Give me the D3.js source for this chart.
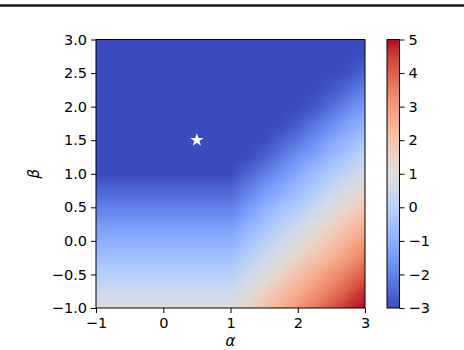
<!DOCTYPE html>
<html>
<head>
<meta charset="utf-8">
<script src="https://cdn.jsdelivr.net/npm/d3@7"></script>
<style>
body { margin: 0; background: #fff; }
svg { display: block; font-family: "DejaVu Sans", sans-serif; }
</style>
</head>
<body>
<div id="chart"></div>
<script>
// grid: one row per beta (from -1 up to 3), columns follow alphaValues
const alphaValues = [-1, -0.75, -0.5, -0.25, 0, 0.25, 0.5, 0.75, 1, 1.25, 1.5, 1.75, 2, 2.25, 2.5, 2.75, 3];
const betaValues = [-1, -0.75, -0.5, -0.25, 0, 0.25, 0.5, 0.75, 1, 1.25, 1.5, 1.75, 2, 2.25, 2.5, 2.75, 3];
const zRows = [
  [1, 1, 1, 1, 1, 1, 1, 1, 1, 1.5, 2.1, 2.6, 3.1, 3.6, 4.2, 4.7, 5],
  [0.5, 0.5, 0.5, 0.5, 0.5, 0.5, 0.5, 0.5, 0.5, 1.0, 1.5, 2.1, 2.6, 3.1, 3.6, 4.1, 4.7],
  [0, 0, 0, 0, 0, 0, 0, 0, 0, 0.5, 1.0, 1.5, 2.1, 2.6, 3.1, 3.6, 4.1],
  [-0.5, -0.5, -0.5, -0.5, -0.5, -0.5, -0.5, -0.5, -0.5, 0.0, 0.5, 1.0, 1.5, 2.0, 2.5, 3.0, 3.6],
  [-1, -1, -1, -1, -1, -1, -1, -1, -1, -0.5, 0, 0.5, 1, 1.5, 2, 2.5, 3],
  [-1.5, -1.5, -1.5, -1.5, -1.5, -1.5, -1.5, -1.5, -1.5, -1.0, -0.5, 0.0, 0.5, 1.0, 1.5, 2.0, 2.5],
  [-2, -2, -2, -2, -2, -2, -2, -2, -2, -1.5, -1.0, -0.5, -0.1, 0.4, 0.9, 1.4, 1.9],
  [-2.5, -2.5, -2.5, -2.5, -2.5, -2.5, -2.5, -2.5, -2.5, -2.0, -1.5, -1.1, -0.6, -0.1, 0.4, 0.9, 1.4],
  [-3, -3, -3, -3, -3, -3, -3, -3, -3, -2.5, -2.0, -1.6, -1.1, -0.6, -0.1, 0.3, 0.8],
  [-3, -3, -3, -3, -3, -3, -3, -3, -3, -3, -2.6, -2.1, -1.6, -1.2, -0.7, -0.2, 0.3],
  [-3, -3, -3, -3, -3, -3, -3, -3, -3, -3, -3, -2.6, -2.2, -1.7, -1.2, -0.8, -0.3],
  [-3, -3, -3, -3, -3, -3, -3, -3, -3, -3, -3, -3, -2.7, -2.2, -1.8, -1.3, -0.9],
  [-3, -3, -3, -3, -3, -3, -3, -3, -3, -3, -3, -3, -3, -2.8, -2.3, -1.9, -1.4],
  [-3, -3, -3, -3, -3, -3, -3, -3, -3, -3, -3, -3, -3, -3, -2.8, -2.4, -2.0],
  [-3, -3, -3, -3, -3, -3, -3, -3, -3, -3, -3, -3, -3, -3, -3, -2.9, -2.5],
  [-3, -3, -3, -3, -3, -3, -3, -3, -3, -3, -3, -3, -3, -3, -3, -3, -2.9],
  [-3, -3, -3, -3, -3, -3, -3, -3, -3, -3, -3, -3, -3, -3, -3, -3, -3]
];
const starPoint = [0.5, 1.5];
const xTicks = [-1, 0, 1, 2, 3];
const yTicks = [-1, -0.5, 0, 0.5, 1, 1.5, 2, 2.5, 3];
const cbarTicks = [-3, -2, -1, 0, 1, 2, 3, 4, 5];
const zDomain = [-3, 5];

// coolwarm colormap
const coolwarm = ["#3b4cc0","#445acc","#4d68d7","#5775e1","#6282ea","#6c8ef1","#779af7","#82a5fb",
  "#8db0fe","#98b9ff","#a3c2ff","#aec9fd","#b8d0f9","#c2d5f4","#ccd9ee","#d5dbe6","#dddddd",
  "#e5d8d1","#ecd3c5","#f1ccb9","#f5c4ad","#f7bba0","#f7b194","#f7a687","#f49a7b","#f18d6f",
  "#ec7f63","#e57058","#de604d","#d55042","#cb3e38","#c0282f","#b40426"];

const width = 464;
const height = 350;
const plotLeft = 96, plotRight = 365, plotTop = 39.5, plotBottom = 308;

const x = d3.scaleLinear().domain([-1, 3]).range([plotLeft, plotRight]);
const y = d3.scaleLinear().domain([-1, 3]).range([plotBottom, plotTop]);
const color = d3.scaleLinear()
  .domain(coolwarm.map((c, i) => zDomain[0] + (zDomain[1] - zDomain[0]) * i / (coolwarm.length - 1)))
  .range(coolwarm)
  .clamp(true);

const svg = d3.select('#chart').append('svg')
  .attr('width', width)
  .attr('height', height);

// rule and cut title at the top
svg.append('line')
  .attr('x1', 0).attr('x2', width)
  .attr('y1', 5.5).attr('y2', 5.5)
  .attr('stroke', '#151515')
  .attr('stroke-width', 2.6);
svg.append('text')
  .attr('x', 282).attr('y', -3)
  .attr('text-anchor', 'middle')
  .style('font-family', '"Liberation Serif", serif')
  .style('font-weight', 'bold')
  .style('font-size', '15px')
  .text('g');

// heatmap: one pixel per grid node, scaled up by the browser
const nx = alphaValues.length, ny = betaValues.length;
const canvas = document.createElement('canvas');
canvas.width = nx;
canvas.height = ny;
const ctx = canvas.getContext('2d');
zRows.forEach((row, j) => {
  row.forEach((v, i) => {
    ctx.fillStyle = color(v);
    ctx.fillRect(i, ny - 1 - j, 1, 1);
  });
});
const cellW = x(alphaValues[1]) - x(alphaValues[0]);
const cellH = y(betaValues[0]) - y(betaValues[1]);

svg.append('clipPath').attr('id', 'plotclip')
  .append('rect')
  .attr('x', plotLeft).attr('y', plotTop)
  .attr('width', plotRight - plotLeft).attr('height', plotBottom - plotTop);

svg.append('image')
  .attr('clip-path', 'url(#plotclip)')
  .attr('href', canvas.toDataURL())
  .attr('x', x(alphaValues[0]) - cellW / 2)
  .attr('y', y(betaValues[ny - 1]) - cellH / 2)
  .attr('width', cellW * nx)
  .attr('height', cellH * ny)
  .attr('preserveAspectRatio', 'none');

// star marker
svg.append('path')
  .attr('d', d3.symbol().type(d3.symbolStar).size(55)())
  .attr('transform', 'translate(' + x(starPoint[0]) + ',' + y(starPoint[1]) + ')')
  .attr('fill', '#fff');

// axes
const xAxis = svg.append('g')
  .attr('transform', 'translate(0,' + plotBottom + ')')
  .call(d3.axisBottom(x).tickValues(xTicks).tickSize(5).tickPadding(5).tickFormat(d3.format('d')));
const yAxis = svg.append('g')
  .attr('transform', 'translate(' + plotLeft + ',0)')
  .call(d3.axisLeft(y).tickValues(yTicks).tickSize(5).tickPadding(4).tickFormat(d3.format('.1f')));
[xAxis, yAxis].forEach(g => {
  g.select('.domain').remove();
  g.selectAll('text').style('font-size', '14.5px').style('font-family', '"DejaVu Sans", sans-serif').attr('fill', '#000');
  g.selectAll('line').attr('stroke', '#000').attr('stroke-width', 1);
});

svg.append('rect')
  .attr('x', plotLeft).attr('y', plotTop)
  .attr('width', plotRight - plotLeft).attr('height', plotBottom - plotTop)
  .attr('fill', 'none')
  .attr('stroke', '#000')
  .attr('stroke-width', 1);

svg.append('text')
  .attr('x', (plotLeft + plotRight) / 2).attr('y', 346)
  .attr('text-anchor', 'middle')
  .style('font-size', '15px')
  .style('font-style', 'italic')
  .text('α');
svg.append('text')
  .attr('transform', 'translate(39,' + ((plotTop + plotBottom) / 2) + ') rotate(-90)')
  .attr('text-anchor', 'middle')
  .style('font-size', '15px')
  .style('font-style', 'italic')
  .text('β');

// colorbar
const cbX = 387, cbW = 12.5;
const cy = d3.scaleLinear().domain(zDomain).range([plotBottom, plotTop]);
const grad = svg.append('defs').append('linearGradient')
  .attr('id', 'cbgrad')
  .attr('x1', 0).attr('y1', 1).attr('x2', 0).attr('y2', 0);
grad.selectAll('stop')
  .data(coolwarm)
  .enter()
  .append('stop')
  .attr('offset', (d, i) => i / (coolwarm.length - 1))
  .attr('stop-color', d => d);
svg.append('rect')
  .attr('x', cbX).attr('y', plotTop)
  .attr('width', cbW).attr('height', plotBottom - plotTop)
  .attr('fill', 'url(#cbgrad)')
  .attr('stroke', '#000')
  .attr('stroke-width', 1);
const cAxis = svg.append('g')
  .attr('transform', 'translate(' + (cbX + cbW) + ',0)')
  .call(d3.axisRight(cy).tickValues(cbarTicks).tickSize(5).tickPadding(4).tickFormat(d3.format('d')));
cAxis.select('.domain').remove();
cAxis.selectAll('text').style('font-size', '14.5px').style('font-family', '"DejaVu Sans", sans-serif').attr('fill', '#000');
cAxis.selectAll('line').attr('stroke', '#000').attr('stroke-width', 1);
</script>
</body>
</html>
